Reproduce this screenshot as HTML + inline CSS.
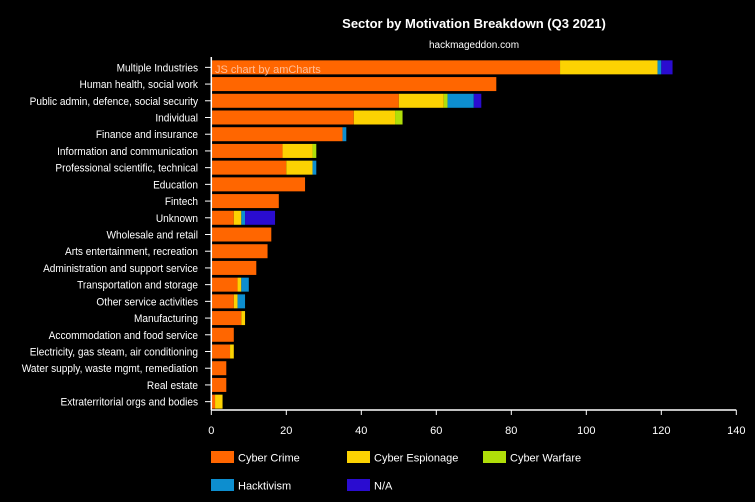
<!DOCTYPE html>
<html><head><meta charset="utf-8"><style>
html,body{margin:0;padding:0;background:#000;}
svg{display:block;font-family:"Liberation Sans",sans-serif;}
</style></head><body>
<svg id="chart" width="755" height="502">
<text x="474" y="28" text-anchor="middle" fill="#fff" font-size="13" font-weight="bold">Sector by Motivation Breakdown (Q3 2021)</text>
<text x="474" y="48" text-anchor="middle" fill="#fff" font-size="10">hackmageddon.com</text>
<g id="bars"></g>
<g id="axes"></g>
<text x="215" y="73" fill="#ffc8a8" font-size="11" opacity="0.9">JS chart by amCharts</text>
<g id="legend"></g>
</svg>
<script>
const categories=["Multiple Industries","Human health, social work","Public admin, defence, social security","Individual","Finance and insurance","Information and communication","Professional scientific, technical","Education","Fintech","Unknown","Wholesale and retail","Arts entertainment, recreation","Administration and support service","Transportation and storage","Other service activities","Manufacturing","Accommodation and food service","Electricity, gas steam, air conditioning","Water supply, waste mgmt, remediation","Real estate","Extraterritorial orgs and bodies"];
const seriesNames=["Cyber Crime","Cyber Espionage","Cyber Warfare","Hacktivism","N/A"];
const cyberCrime=[93,76,50,38,35,19,20,25,18,6,16,15,12,7,6,8,6,5,4,4,1];
const cyberEspionage=[26,0,12,11,0,8,7,0,0,2,0,0,0,1,1,1,0,1,0,0,2];
const cyberWarfare=[0,0,1,2,0,1,0,0,0,0,0,0,0,0,0,0,0,0,0,0,0];
const hacktivism=[1,0,7,0,1,0,1,0,0,1,0,0,0,2,2,0,0,0,0,0,0];
const na=[3,0,2,0,0,0,0,0,0,8,0,0,0,0,0,0,0,0,0,0,0];
const xTicks=[0,20,40,60,80,100,120,140];
const colors=["#ff6600","#fcd202","#b0de09","#0d8ecf","#2a0cd0"];
const NS="http://www.w3.org/2000/svg";
const x0=211.3,x1=736.3,xMax=140,yTop=59,yBottom=410;
const xs=v=>x0+v/xMax*(x1-x0);
const band=(yBottom-yTop)/categories.length;
const yc=i=>yTop+band*(i+0.5);
function mk(tag,attrs,parent){const e=document.createElementNS(NS,tag);for(const k in attrs)e.setAttribute(k,attrs[k]);parent.appendChild(e);return e;}
const barsG=document.getElementById('bars'),axesG=document.getElementById('axes'),legendG=document.getElementById('legend');
const all=[cyberCrime,cyberEspionage,cyberWarfare,hacktivism,na];
categories.forEach((c,i)=>{
  let acc=0;
  all.forEach((s,k)=>{
    const v=s[i]; if(!v){return;}
    const r=mk('rect',{x:xs(acc),y:yc(i)-7,width:xs(acc+v)-xs(acc),height:14,fill:colors[k]},barsG);
    
    
    acc+=v;
  });
  const t=mk('text',{x:0,y:0,'text-anchor':'end',fill:'#fff','font-size':11,transform:'translate(198,'+(yc(i)+4)+') scale(0.92,1)'},axesG);
  t.textContent=c;
  
  
  mk('line',{x1:205,x2:211,y1:yc(i),y2:yc(i),stroke:'#fff'},axesG);
});
mk('line',{x1:x0,x2:x0,y1:yTop-2,y2:yBottom,stroke:'#fff','stroke-width':1.5},axesG);
mk('line',{x1:x0,x2:x1,y1:yBottom,y2:yBottom,stroke:'#fff','stroke-width':1.5},axesG);
xTicks.forEach(v=>{
  mk('line',{x1:xs(v),x2:xs(v),y1:yBottom,y2:yBottom+5,stroke:'#fff'},axesG);
  const t=mk('text',{x:xs(v),y:434,'text-anchor':'middle',fill:'#fff','font-size':11},axesG);
  t.textContent=v;
  
  
});
const lx=[211,347,483];
seriesNames.forEach((n,k)=>{
  const px=lx[k%3],py=k<3?451:479;
  const g=mk('g',{},legendG);
  
  
  mk('rect',{x:px,y:py,width:23,height:12,fill:colors[k]},g);
  const t=mk('text',{x:px+27,y:py+10.5,fill:'#fff','font-size':11},g);
  t.textContent=n;
});
</script>
</body></html>
